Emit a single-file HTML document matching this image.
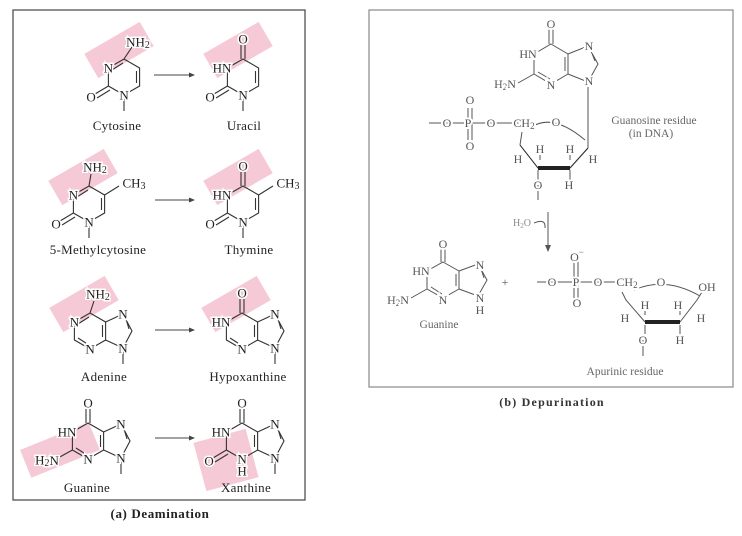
<!DOCTYPE html>
<html><head><meta charset="utf-8"><style>
html,body{margin:0;padding:0;background:#fff;}
svg{display:block;}
text{font-family:"Liberation Serif",serif;}
.a{font-size:13px;fill:#222;text-anchor:middle;dominant-baseline:central;paint-order:stroke;stroke:#fff;stroke-width:3px;}
.l{font-size:13px;fill:#222;text-anchor:middle;letter-spacing:0.3px;}
.b{stroke:#333;stroke-width:1.1;fill:none;}
.r{font-size:12px;fill:#555;text-anchor:middle;dominant-baseline:central;paint-order:stroke;stroke:#fff;stroke-width:4px;}
.rl{font-size:11.5px;fill:#666;text-anchor:middle;}
.g{stroke:#555;stroke-width:1;fill:none;}
</style></head><body>
<svg width="742" height="536" viewBox="0 0 742 536" xmlns="http://www.w3.org/2000/svg">
<rect x="13" y="10" width="292" height="490" fill="#fff" stroke="#444" stroke-width="1.2"/>
<g fill="#f5c9d6">
<rect x="-32" y="-14" width="64" height="28" transform="translate(119,50) rotate(-30)"/>
<rect x="-32" y="-14" width="64" height="28" transform="translate(238,50) rotate(-30)"/>
<rect x="-32" y="-14" width="64" height="28" transform="translate(83,177) rotate(-30)"/>
<rect x="-32" y="-14" width="64" height="28" transform="translate(238,177) rotate(-30)"/>
<rect x="-32" y="-14" width="64" height="28" transform="translate(84,304) rotate(-30)"/>
<rect x="-32" y="-14" width="64" height="28" transform="translate(236,304) rotate(-30)"/>
<rect x="-37" y="-15" width="74" height="30" transform="translate(60,450) rotate(-22)"/>
<rect x="-27" y="-25" width="54" height="50" transform="translate(226,460) rotate(-15)"/>
</g>
<g stroke="#444" stroke-width="1.1">
<line x1="154" y1="75" x2="193" y2="75"/><line x1="155" y1="200" x2="193" y2="200"/>
<line x1="155" y1="330" x2="193" y2="330"/><line x1="155" y1="438" x2="193" y2="438"/>
</g>
<g fill="#444"><path d="M195,75 l-6,-2.5 v5z"/><path d="M195,200 l-6,-2.5 v5z"/><path d="M195,330 l-6,-2.5 v5z"/><path d="M195,438 l-6,-2.5 v5z"/></g>

<g transform="translate(124,77)">
<path class="b" d="M0,-18 L15.6,-9 L15.6,9 L0,18 L-15.6,9 L-15.6,-9 Z M12.5,-6 L12.5,6 M-12,-7 L-1,-14 M0,-18 L8,-30 M-15.6,9 L-29,17 M-14,13 L-27,21 M0,18 L0,34"/>
<text class="a" x="-15.6" y="-9">N</text><text class="a" x="0" y="18">N</text>
<text class="a" x="-33" y="20">O</text><text class="a" x="14" y="-35">NH<tspan font-size="10" dy="3">2</tspan></text>
</g>
<text class="l" x="117" y="130">Cytosine</text>
<g transform="translate(243,77)">
<path class="b" d="M0,-18 L15.6,-9 L15.6,9 L0,18 L-15.6,9 L-15.6,-9 Z M12.5,-6 L12.5,6 M-2,-18 L-2,-32 M2,-18 L2,-32 M-15.6,9 L-29,17 M-14,13 L-27,21 M0,18 L0,34"/>
<text class="a" x="-21" y="-9">HN</text><text class="a" x="0" y="18">N</text>
<text class="a" x="-33" y="20">O</text><text class="a" x="0" y="-38">O</text>
</g>
<text class="l" x="244" y="130">Uracil</text>

<g transform="translate(89,204)">
<path class="b" d="M0,-18 L15.6,-9 L15.6,9 L0,18 L-15.6,9 L-15.6,-9 Z M12.5,-6 L12.5,6 M-12,-7 L-1,-14 M0,-18 L2,-30 M-15.6,9 L-29,17 M-14,13 L-27,21 M0,18 L0,34 M15.6,-9 L30,-18"/>
<text class="a" x="-15.6" y="-9">N</text><text class="a" x="0" y="18">N</text>
<text class="a" x="-33" y="20">O</text><text class="a" x="6" y="-37">NH<tspan font-size="10" dy="3">2</tspan></text>
<text class="a" x="45" y="-21">CH<tspan font-size="10" dy="3">3</tspan></text>
</g>
<text class="l" x="98" y="254">5-Methylcytosine</text>
<g transform="translate(243,204)">
<path class="b" d="M0,-18 L15.6,-9 L15.6,9 L0,18 L-15.6,9 L-15.6,-9 Z M12.5,-6 L12.5,6 M-2,-18 L-2,-32 M2,-18 L2,-32 M-15.6,9 L-29,17 M-14,13 L-27,21 M0,18 L0,34 M15.6,-9 L30,-18"/>
<text class="a" x="-21" y="-9">HN</text><text class="a" x="0" y="18">N</text>
<text class="a" x="-33" y="20">O</text><text class="a" x="0" y="-38">O</text>
<text class="a" x="45" y="-21">CH<tspan font-size="10" dy="3">3</tspan></text>
</g>
<text class="l" x="249" y="254">Thymine</text>

<g transform="translate(90,331)">
<path class="b" d="M0,-18 L15.6,-9 L15.6,9 L0,18 L-15.6,9 L-15.6,-9 Z M12.5,-6 L12.5,6 M-12,-7 L-1,-14 M-12,7 L-1,14 M0,-18 L4,-30 M15.6,-9 L33,-17 L42,0 L33,17 L15.6,9 M36,-12 L39,-2 M33,17 L33,33"/>
<text class="a" x="-15.6" y="-9">N</text><text class="a" x="0" y="18">N</text>
<text class="a" x="33" y="-17">N</text><text class="a" x="33" y="17">N</text>
<text class="a" x="8" y="-37">NH<tspan font-size="10" dy="3">2</tspan></text>
</g>
<text class="l" x="104" y="381">Adenine</text>
<g transform="translate(242,331)">
<path class="b" d="M0,-18 L15.6,-9 L15.6,9 L0,18 L-15.6,9 L-15.6,-9 Z M12.5,-6 L12.5,6 M-12,7 L-1,14 M-2,-18 L-2,-32 M2,-18 L2,-32 M15.6,-9 L33,-17 L42,0 L33,17 L15.6,9 M36,-12 L39,-2 M33,17 L33,33"/>
<text class="a" x="-21" y="-9">HN</text><text class="a" x="0" y="18">N</text>
<text class="a" x="33" y="-17">N</text><text class="a" x="33" y="17">N</text>
<text class="a" x="0" y="-38">O</text>
</g>
<text class="l" x="248" y="381">Hypoxanthine</text>

<g transform="translate(88,441)">
<path class="b" d="M0,-18 L15.6,-9 L15.6,9 L0,18 L-15.6,9 L-15.6,-9 Z M12.5,-6 L12.5,6 M-12,7 L-1,14 M-2,-18 L-2,-32 M2,-18 L2,-32 M-15.6,9 L-30,17 M15.6,-9 L33,-17 L42,0 L33,17 L15.6,9 M36,-12 L39,-2 M33,17 L33,33"/>
<text class="a" x="-21" y="-9">HN</text><text class="a" x="0" y="18">N</text>
<text class="a" x="33" y="-17">N</text><text class="a" x="33" y="17">N</text>
<text class="a" x="0" y="-38">O</text>
<text class="a" x="-41" y="19">H<tspan font-size="10" dy="3">2</tspan><tspan dy="-3">N</tspan></text>
</g>
<text class="l" x="87" y="492">Guanine</text>
<g transform="translate(242,441)">
<path class="b" d="M0,-18 L15.6,-9 L15.6,9 L0,18 L-15.6,9 L-15.6,-9 Z M12.5,-6 L12.5,6 M-2,-18 L-2,-32 M2,-18 L2,-32 M-15.6,9 L-29,17 M-14,13 L-27,21 M15.6,-9 L33,-17 L42,0 L33,17 L15.6,9 M36,-12 L39,-2 M33,17 L33,33"/>
<text class="a" x="-21" y="-9">HN</text><text class="a" x="0" y="18">N</text><text class="a" x="0" y="30">H</text>
<text class="a" x="33" y="-17">N</text><text class="a" x="33" y="17">N</text>
<text class="a" x="0" y="-38">O</text><text class="a" x="-33" y="20">O</text>
</g>
<text class="l" x="246" y="492">Xanthine</text>
<text x="160" y="518" style="font-size:13px;font-weight:bold;fill:#222;text-anchor:middle;letter-spacing:0.6px;">(a) Deamination</text>

<rect x="369" y="10" width="364" height="377" fill="#fff" stroke="#888" stroke-width="1.2"/>
<g transform="translate(551,64)">
<path class="g" d="M0,-20 L17,-10 L17,10 L0,20 L-17,10 L-17,-10 Z M14,-7 L14,7 M-13,8 L-1,15 M-2,-20 L-2,-36 M2,-20 L2,-36 M-17,10 L-33,19 M17,-10 L37,-18 L47,0 L37,18 L17,10 M40,-13 L44,-3 M37,18 L37,84"/>
<text class="r" x="-23" y="-10">HN</text><text class="r" x="0" y="21">N</text>
<text class="r" x="38" y="-18">N</text><text class="r" x="38" y="17">N</text>
<text class="r" x="0" y="-40">O</text>
<text class="r" x="-46" y="20">H<tspan font-size="9" dy="3">2</tspan><tspan dy="-3">N</tspan></text>
</g>
<path class="g" d="M429,123 L520,123 M468,108 L468,140 M472,108 L472,140 M522,132 L520,145 L538,168 M570,168 L588,148 M538,185 L538,200 M530,128 Q552,112 585,140"/>
<path d="M520,145 L538,168 L570,168 L588,148" stroke="#333" stroke-width="1" fill="none"/>
<path d="M538,168 L570,168" stroke="#222" stroke-width="4"/>
<path class="g" d="M540,160 L540,150 M570,160 L570,150 M538,170 L538,180 M570,170 L570,180"/>
<text class="r" x="447" y="123">O</text><text class="r" x="468" y="123">P</text><text class="r" x="491" y="123">O</text>
<text class="r" x="524" y="123">CH<tspan font-size="9" dy="3">2</tspan></text><text class="r" x="556" y="122">O</text>
<text class="r" x="470" y="100">O</text><text class="r" x="470" y="146">O</text>
<text class="r" x="540" y="149">H</text><text class="r" x="570" y="149">H</text>
<text class="r" x="518" y="159">H</text><text class="r" x="593" y="159">H</text>
<text class="r" x="538" y="185">O</text><text class="r" x="569" y="185">H</text>
<text class="rl" x="654" y="124">Guanosine residue</text>
<text class="rl" x="651" y="137">(in DNA)</text>
<text x="522" y="226" style="font-size:10px;fill:#888;text-anchor:middle;">H<tspan font-size="7" dy="2">2</tspan><tspan dy="-2">O</tspan></text>
<path class="g" d="M534,223 Q546,218 545,228 M548,212 L548,248"/>
<path d="M548,252 l-3,-7 h6z" fill="#555"/>
<g transform="translate(443,280)">
<path class="g" d="M0,-18 L16,-9 L16,9 L0,18 L-16,9 L-16,-9 Z M13,-6 L13,6 M-12,7 L-1,14 M-2,-18 L-2,-32 M2,-18 L2,-32 M-16,9 L-32,18 M16,-9 L35,-16 L44,0 L35,16 L16,9 M38,-11 L41,-2"/>
<text class="r" x="-22" y="-9">HN</text><text class="r" x="0" y="20">N</text>
<text class="r" x="37" y="-15">N</text><text class="r" x="37" y="18">N</text><text class="r" x="37" y="30">H</text>
<text class="r" x="0" y="-36">O</text>
<text class="r" x="-45" y="20">H<tspan font-size="9" dy="3">2</tspan><tspan dy="-3">N</tspan></text>
</g>
<text class="rl" x="439" y="328">Guanine</text>
<text class="r" x="505" y="282">+</text>
<path class="g" d="M537,282 L620,282 M574,262 L574,300 M578,262 L578,300 M622,292 L626,300 L645,322 M680,322 L697,300 L702,292 M634,290 Q665,276 700,296 M643,340 L643,356"/>
<path d="M645,322 L680,322" stroke="#222" stroke-width="4"/>
<path class="g" d="M645,315 L645,307 M680,315 L680,307 M645,325 L645,334 M680,325 L680,334"/>
<text class="r" x="552" y="282">O</text><text class="r" x="576" y="282">P</text><text class="r" x="598" y="282">O</text>
<text class="r" x="627" y="282">CH<tspan font-size="9" dy="3">2</tspan></text><text class="r" x="661" y="282">O</text>
<text class="r" x="577" y="257">O<tspan font-size="9" dy="-5">−</tspan></text><text class="r" x="577" y="303">O</text>
<text class="r" x="707" y="287">OH</text>
<text class="r" x="645" y="305">H</text><text class="r" x="678" y="305">H</text>
<text class="r" x="625" y="318">H</text><text class="r" x="701" y="318">H</text>
<text class="r" x="643" y="340">O</text><text class="r" x="680" y="340">H</text>
<text class="rl" x="625" y="375">Apurinic residue</text>
<text x="552" y="406" style="font-size:12px;font-weight:bold;fill:#333;text-anchor:middle;letter-spacing:1.2px;">(b) Depurination</text>
</svg>
</body></html>
